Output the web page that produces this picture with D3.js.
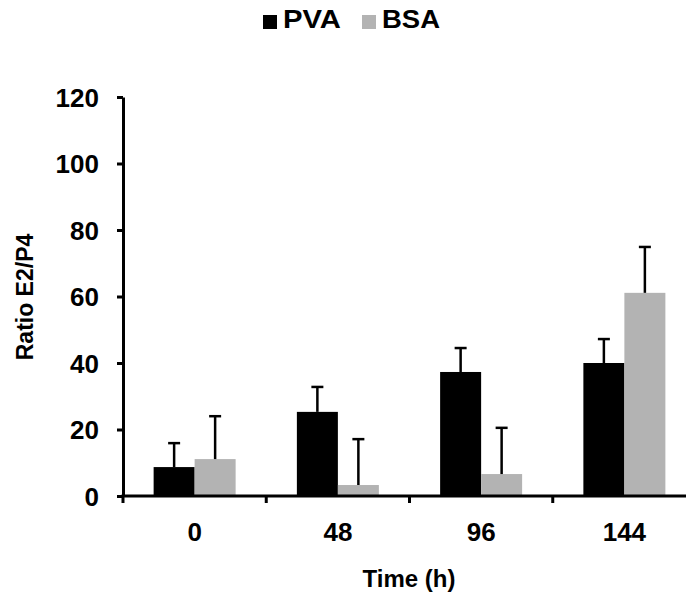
<!DOCTYPE html>
<html>
<head>
<meta charset="utf-8">
<script src="https://cdn.jsdelivr.net/npm/d3@7"></script>
<style>
  body { margin: 0; background: #fff; }
  svg text { font-family: Arial, "Liberation Sans", sans-serif; font-weight: bold; fill: #000; }
  .axis path, .axis line { stroke: #000; stroke-width: 3; }
</style>
</head>
<body>
<svg id="chart" width="686" height="592"></svg>
<script>
const categories = ["0", "48", "96", "144"];
const seriesNames = ["PVA", "BSA"];
const pvaValues = [8.7, 25.3, 37.3, 40.0];
const pvaErrors = [7.2, 7.5, 7.2, 7.2];
const bsaValues = [11.1, 3.3, 6.6, 61.1];
const bsaErrors = [12.9, 13.8, 13.9, 13.8];
const yTicks = [0, 20, 40, 60, 80, 100, 120];
const colors = ["#000000", "#b3b3b3"];

const svg = d3.select("#chart");

const y = d3.scaleLinear().domain([0, 120]).range([496, 97]);
const x = d3.scaleBand().domain(categories).range([123, 696]).padding(0);
const xs = d3.scaleBand().domain(seriesNames)
  .range([x.bandwidth() / 2 - 41, x.bandwidth() / 2 + 41]).padding(0);

const rows = [];
categories.forEach(function (c, i) {
  rows.push({ cat: c, s: "PVA", v: pvaValues[i], e: pvaErrors[i] });
  rows.push({ cat: c, s: "BSA", v: bsaValues[i], e: bsaErrors[i] });
});

// bars
svg.selectAll(".bar")
  .data(rows)
  .enter()
  .append("rect")
  .attr("x", d => x(d.cat) + xs(d.s))
  .attr("y", d => y(d.v))
  .attr("width", xs.bandwidth())
  .attr("height", d => y(0) - y(d.v))
  .attr("fill", d => colors[seriesNames.indexOf(d.s)]);

// error bars (upper only)
const err = svg.append("g").attr("stroke", "#000").attr("stroke-width", 2.5);
err.selectAll(".stem")
  .data(rows)
  .enter()
  .append("line")
  .attr("x1", d => x(d.cat) + xs(d.s) + xs.bandwidth() / 2)
  .attr("x2", d => x(d.cat) + xs(d.s) + xs.bandwidth() / 2)
  .attr("y1", d => y(d.v))
  .attr("y2", d => y(d.v + d.e));
err.selectAll(".cap")
  .data(rows)
  .enter()
  .append("line")
  .attr("x1", d => x(d.cat) + xs(d.s) + xs.bandwidth() / 2 - 6)
  .attr("x2", d => x(d.cat) + xs(d.s) + xs.bandwidth() / 2 + 6)
  .attr("y1", d => y(d.v + d.e))
  .attr("y2", d => y(d.v + d.e));

// y axis
const yAxis = svg.append("g")
  .attr("class", "axis")
  .attr("transform", "translate(123,0)")
  .call(d3.axisLeft(y).tickValues(yTicks).tickSize(6).tickSizeOuter(0).tickPadding(18));
yAxis.selectAll("text").style("font-size", "26px").attr("dy", "0.36em");

// x axis
const xAxis = svg.append("g")
  .attr("class", "axis")
  .attr("transform", "translate(0,496)")
  .call(d3.axisBottom(x).tickSize(0).tickPadding(27));
xAxis.select(".domain").attr("d", "M121.5,0H686");
xAxis.selectAll("text").style("font-size", "26px");
xAxis.selectAll(".bound")
  .data(categories)
  .enter()
  .append("line")
  .attr("x1", d => x(d))
  .attr("x2", d => x(d))
  .attr("y1", 0)
  .attr("y2", 7);

// axis titles
svg.append("text")
  .attr("x", 409)
  .attr("y", 587)
  .attr("text-anchor", "middle")
  .style("font-size", "24px")
  .text("Time (h)");

svg.append("text")
  .attr("transform", "translate(33,297) rotate(-90)")
  .attr("text-anchor", "middle")
  .style("font-size", "23px")
  .text("Ratio E2/P4");

// legend
const legend = svg.append("g");
const legendX = [263, 362];
seriesNames.forEach(function (s, i) {
  legend.append("rect")
    .attr("x", legendX[i])
    .attr("y", 15)
    .attr("width", 14)
    .attr("height", 14)
    .attr("fill", colors[i]);
  legend.append("text")
    .attr("x", legendX[i] + 20)
    .attr("y", 28)
    .attr("textLength", 58)
    .attr("lengthAdjust", "spacingAndGlyphs")
    .style("font-size", "25px")
    .text(s);
});
</script>
</body>
</html>
